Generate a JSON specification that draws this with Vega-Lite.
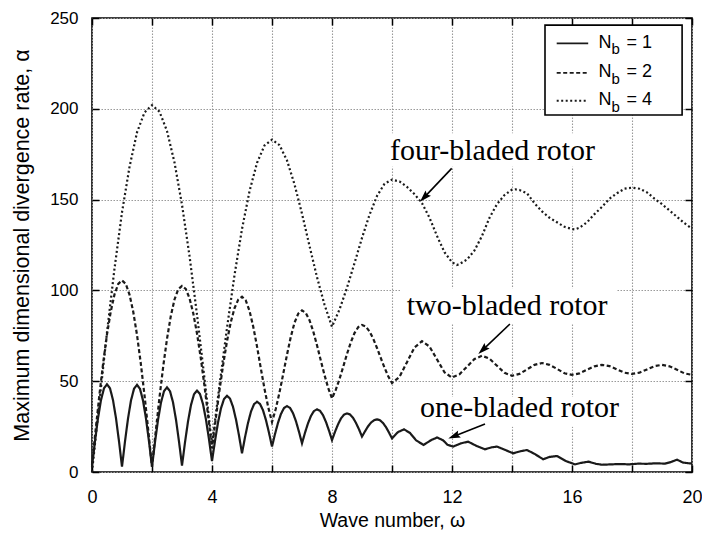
{
"$schema": "https://vega.github.io/schema/vega-lite/v6.json",
"width": 600, "height": 454,
"autosize": {"type": "none"},
"padding": {"left": 92, "top": 18, "right": 10, "bottom": 65},
"background": "white",
"config": {
  "view": {"stroke": "black", "strokeWidth": 1.6},
  "font": "Liberation Sans",
  "axis": {"domain": false, "tickColor": "black", "tickWidth": 1.5, "tickSize": -7, "labelColor": "black", "titleColor": "black", "titleFontWeight": "normal", "gridColor": "#9a9a9a", "gridDash": [1.5, 1.5], "gridWidth": 1.1, "gridOpacity": 1, "labelFlush": false, "labelOverlap": false}
},
"datasets": {
  "curves": [
    {"series":"N_b = 4","omega":0,"alpha":0},{"series":"N_b = 4","omega":0.25,"alpha":39},{"series":"N_b = 4","omega":0.5,"alpha":77},{"series":"N_b = 4","omega":0.75,"alpha":112},{"series":"N_b = 4","omega":1,"alpha":143},{"series":"N_b = 4","omega":1.25,"alpha":168},{"series":"N_b = 4","omega":1.5,"alpha":187},{"series":"N_b = 4","omega":1.75,"alpha":198},{"series":"N_b = 4","omega":2,"alpha":202},
    {"series":"N_b = 4","omega":2.25,"alpha":198.4},{"series":"N_b = 4","omega":2.5,"alpha":187.8},{"series":"N_b = 4","omega":2.75,"alpha":170.4},{"series":"N_b = 4","omega":3,"alpha":147.2},{"series":"N_b = 4","omega":3.25,"alpha":119},{"series":"N_b = 4","omega":3.5,"alpha":86.6},{"series":"N_b = 4","omega":3.75,"alpha":51.5},{"series":"N_b = 4","omega":4,"alpha":15},
    {"series":"N_b = 4","omega":4.25,"alpha":47.8},{"series":"N_b = 4","omega":4.5,"alpha":79.3},{"series":"N_b = 4","omega":4.75,"alpha":108.4},{"series":"N_b = 4","omega":5,"alpha":133.8},{"series":"N_b = 4","omega":5.25,"alpha":154.6},{"series":"N_b = 4","omega":5.5,"alpha":170.2},{"series":"N_b = 4","omega":5.75,"alpha":179.8},{"series":"N_b = 4","omega":6,"alpha":183},
    {"series":"N_b = 4","omega":6.25,"alpha":180},{"series":"N_b = 4","omega":6.5,"alpha":171.6},{"series":"N_b = 4","omega":6.75,"alpha":158.4},{"series":"N_b = 4","omega":7,"alpha":142.2},{"series":"N_b = 4","omega":7.25,"alpha":124.5},{"series":"N_b = 4","omega":7.5,"alpha":107.3},{"series":"N_b = 4","omega":7.75,"alpha":92.1},{"series":"N_b = 4","omega":8,"alpha":80},
    {"series":"N_b = 4","omega":8.25,"alpha":89.5},{"series":"N_b = 4","omega":8.5,"alpha":101.5},{"series":"N_b = 4","omega":8.75,"alpha":115},{"series":"N_b = 4","omega":9,"alpha":128.9},{"series":"N_b = 4","omega":9.25,"alpha":141.6},{"series":"N_b = 4","omega":9.5,"alpha":152},{"series":"N_b = 4","omega":9.75,"alpha":158.7},{"series":"N_b = 4","omega":10,"alpha":161},
    {"series":"N_b = 4","omega":10.25,"alpha":160},{"series":"N_b = 4","omega":10.5,"alpha":157},{"series":"N_b = 4","omega":10.75,"alpha":153},{"series":"N_b = 4","omega":11,"alpha":148},{"series":"N_b = 4","omega":11.25,"alpha":140},{"series":"N_b = 4","omega":11.5,"alpha":130},{"series":"N_b = 4","omega":11.75,"alpha":121},{"series":"N_b = 4","omega":12,"alpha":115.5},{"series":"N_b = 4","omega":12.16,"alpha":114},
    {"series":"N_b = 4","omega":12.25,"alpha":114.5},{"series":"N_b = 4","omega":12.5,"alpha":117},{"series":"N_b = 4","omega":12.75,"alpha":122},{"series":"N_b = 4","omega":13,"alpha":130},{"series":"N_b = 4","omega":13.25,"alpha":140},{"series":"N_b = 4","omega":13.5,"alpha":147.5},{"series":"N_b = 4","omega":13.75,"alpha":152.5},{"series":"N_b = 4","omega":14,"alpha":155.5},{"series":"N_b = 4","omega":14.1,"alpha":155.7},
    {"series":"N_b = 4","omega":14.25,"alpha":155.3},{"series":"N_b = 4","omega":14.5,"alpha":153.5},{"series":"N_b = 4","omega":14.75,"alpha":148},{"series":"N_b = 4","omega":15,"alpha":143.5},{"series":"N_b = 4","omega":15.25,"alpha":140},{"series":"N_b = 4","omega":15.5,"alpha":137.5},{"series":"N_b = 4","omega":15.75,"alpha":135},{"series":"N_b = 4","omega":16,"alpha":133.8},{"series":"N_b = 4","omega":16.1,"alpha":133.6},
    {"series":"N_b = 4","omega":16.25,"alpha":134.5},{"series":"N_b = 4","omega":16.5,"alpha":137.5},{"series":"N_b = 4","omega":16.75,"alpha":142},{"series":"N_b = 4","omega":17,"alpha":146},{"series":"N_b = 4","omega":17.25,"alpha":150.5},{"series":"N_b = 4","omega":17.5,"alpha":153.5},{"series":"N_b = 4","omega":17.75,"alpha":156},{"series":"N_b = 4","omega":18,"alpha":156.6},
    {"series":"N_b = 4","omega":18.25,"alpha":156},{"series":"N_b = 4","omega":18.5,"alpha":154},{"series":"N_b = 4","omega":18.75,"alpha":150.5},{"series":"N_b = 4","omega":19,"alpha":147.5},{"series":"N_b = 4","omega":19.25,"alpha":144},{"series":"N_b = 4","omega":19.5,"alpha":140.5},{"series":"N_b = 4","omega":19.75,"alpha":137},{"series":"N_b = 4","omega":20,"alpha":134},

    {"series":"N_b = 2","omega":0,"alpha":4},{"series":"N_b = 2","omega":0.125,"alpha":23.8},{"series":"N_b = 2","omega":0.25,"alpha":42.9},{"series":"N_b = 2","omega":0.375,"alpha":60.4},{"series":"N_b = 2","omega":0.5,"alpha":75.8},{"series":"N_b = 2","omega":0.625,"alpha":88.3},{"series":"N_b = 2","omega":0.75,"alpha":97.8},{"series":"N_b = 2","omega":0.875,"alpha":103.6},{"series":"N_b = 2","omega":1,"alpha":105.5},
    {"series":"N_b = 2","omega":1.125,"alpha":103.6},{"series":"N_b = 2","omega":1.25,"alpha":97.7},{"series":"N_b = 2","omega":1.375,"alpha":88.2},{"series":"N_b = 2","omega":1.5,"alpha":75.5},{"series":"N_b = 2","omega":1.625,"alpha":60},{"series":"N_b = 2","omega":1.75,"alpha":42.3},{"series":"N_b = 2","omega":1.875,"alpha":23},{"series":"N_b = 2","omega":2,"alpha":3},
    {"series":"N_b = 2","omega":2.125,"alpha":22.4},{"series":"N_b = 2","omega":2.25,"alpha":41.1},{"series":"N_b = 2","omega":2.375,"alpha":58.3},{"series":"N_b = 2","omega":2.5,"alpha":73.3},{"series":"N_b = 2","omega":2.625,"alpha":85.7},{"series":"N_b = 2","omega":2.75,"alpha":95},{"series":"N_b = 2","omega":2.875,"alpha":100.6},{"series":"N_b = 2","omega":3,"alpha":102.5},
    {"series":"N_b = 2","omega":3.125,"alpha":100.8},{"series":"N_b = 2","omega":3.25,"alpha":95.7},{"series":"N_b = 2","omega":3.375,"alpha":87.4},{"series":"N_b = 2","omega":3.5,"alpha":76.3},{"series":"N_b = 2","omega":3.625,"alpha":62.8},{"series":"N_b = 2","omega":3.75,"alpha":47.3},{"series":"N_b = 2","omega":3.875,"alpha":30.5},{"series":"N_b = 2","omega":4,"alpha":13},
    {"series":"N_b = 2","omega":4.125,"alpha":29.3},{"series":"N_b = 2","omega":4.25,"alpha":45},{"series":"N_b = 2","omega":4.375,"alpha":59.4},{"series":"N_b = 2","omega":4.5,"alpha":72},{"series":"N_b = 2","omega":4.625,"alpha":82.4},{"series":"N_b = 2","omega":4.75,"alpha":90.2},{"series":"N_b = 2","omega":4.875,"alpha":94.9},{"series":"N_b = 2","omega":5,"alpha":96.5},
    {"series":"N_b = 2","omega":5.125,"alpha":94.5},{"series":"N_b = 2","omega":5.25,"alpha":88.8},{"series":"N_b = 2","omega":5.375,"alpha":80},{"series":"N_b = 2","omega":5.5,"alpha":69.2},{"series":"N_b = 2","omega":5.625,"alpha":57.3},{"series":"N_b = 2","omega":5.75,"alpha":45.8},{"series":"N_b = 2","omega":5.875,"alpha":35.6},{"series":"N_b = 2","omega":6,"alpha":27.5},
    {"series":"N_b = 2","omega":6.125,"alpha":34.7},{"series":"N_b = 2","omega":6.25,"alpha":43.8},{"series":"N_b = 2","omega":6.375,"alpha":54.1},{"series":"N_b = 2","omega":6.5,"alpha":64.6},{"series":"N_b = 2","omega":6.625,"alpha":74.3},{"series":"N_b = 2","omega":6.75,"alpha":82.2},{"series":"N_b = 2","omega":6.875,"alpha":87.2},{"series":"N_b = 2","omega":7,"alpha":89},
    {"series":"N_b = 2","omega":7.125,"alpha":87.6},{"series":"N_b = 2","omega":7.25,"alpha":83.6},{"series":"N_b = 2","omega":7.375,"alpha":77.4},{"series":"N_b = 2","omega":7.5,"alpha":69.8},{"series":"N_b = 2","omega":7.625,"alpha":61.5},{"series":"N_b = 2","omega":7.75,"alpha":53.4},{"series":"N_b = 2","omega":7.875,"alpha":46.2},{"series":"N_b = 2","omega":8,"alpha":40.5},
    {"series":"N_b = 2","omega":8.125,"alpha":45.2},{"series":"N_b = 2","omega":8.25,"alpha":51.2},{"series":"N_b = 2","omega":8.375,"alpha":58},{"series":"N_b = 2","omega":8.5,"alpha":65},{"series":"N_b = 2","omega":8.625,"alpha":71.3},{"series":"N_b = 2","omega":8.75,"alpha":76.5},{"series":"N_b = 2","omega":8.875,"alpha":79.8},{"series":"N_b = 2","omega":9,"alpha":81},
    {"series":"N_b = 2","omega":9.125,"alpha":80.1},{"series":"N_b = 2","omega":9.25,"alpha":77.4},{"series":"N_b = 2","omega":9.375,"alpha":73.4},{"series":"N_b = 2","omega":9.5,"alpha":68.3},{"series":"N_b = 2","omega":9.625,"alpha":62.8},{"series":"N_b = 2","omega":9.75,"alpha":57.5},{"series":"N_b = 2","omega":9.875,"alpha":52.7},{"series":"N_b = 2","omega":10,"alpha":49},
    {"series":"N_b = 2","omega":10.25,"alpha":52.4},{"series":"N_b = 2","omega":10.5,"alpha":60.5},{"series":"N_b = 2","omega":10.75,"alpha":68.6},{"series":"N_b = 2","omega":11,"alpha":72},
    {"series":"N_b = 2","omega":11.25,"alpha":69.1},{"series":"N_b = 2","omega":11.5,"alpha":62},{"series":"N_b = 2","omega":11.75,"alpha":54.9},{"series":"N_b = 2","omega":12,"alpha":52},
    {"series":"N_b = 2","omega":12.25,"alpha":53.8},{"series":"N_b = 2","omega":12.5,"alpha":58},{"series":"N_b = 2","omega":12.75,"alpha":62.2},{"series":"N_b = 2","omega":13,"alpha":64},
    {"series":"N_b = 2","omega":13.25,"alpha":62.4},{"series":"N_b = 2","omega":13.5,"alpha":58.5},{"series":"N_b = 2","omega":13.75,"alpha":54.6},{"series":"N_b = 2","omega":14,"alpha":53},
    {"series":"N_b = 2","omega":14.25,"alpha":54},{"series":"N_b = 2","omega":14.5,"alpha":56.5},{"series":"N_b = 2","omega":14.75,"alpha":59},{"series":"N_b = 2","omega":15,"alpha":60},
    {"series":"N_b = 2","omega":15.25,"alpha":59},{"series":"N_b = 2","omega":15.5,"alpha":56.8},{"series":"N_b = 2","omega":15.75,"alpha":54.4},{"series":"N_b = 2","omega":16,"alpha":53.5},
    {"series":"N_b = 2","omega":16.25,"alpha":54.3},{"series":"N_b = 2","omega":16.5,"alpha":56.3},{"series":"N_b = 2","omega":16.75,"alpha":58.2},{"series":"N_b = 2","omega":17,"alpha":59},
    {"series":"N_b = 2","omega":17.25,"alpha":58.3},{"series":"N_b = 2","omega":17.5,"alpha":56.5},{"series":"N_b = 2","omega":17.75,"alpha":54.7},{"series":"N_b = 2","omega":18,"alpha":54},
    {"series":"N_b = 2","omega":18.25,"alpha":54.7},{"series":"N_b = 2","omega":18.5,"alpha":56.5},{"series":"N_b = 2","omega":18.75,"alpha":58.3},{"series":"N_b = 2","omega":19,"alpha":59},
    {"series":"N_b = 2","omega":19.25,"alpha":58.2},{"series":"N_b = 2","omega":19.5,"alpha":56.3},{"series":"N_b = 2","omega":19.75,"alpha":54.3},{"series":"N_b = 2","omega":20,"alpha":53.5},

    {"series":"N_b = 1","omega":0,"alpha":3},{"series":"N_b = 1","omega":0.1,"alpha":17},{"series":"N_b = 1","omega":0.2,"alpha":29.6},{"series":"N_b = 1","omega":0.3,"alpha":39.6},{"series":"N_b = 1","omega":0.4,"alpha":46.1},{"series":"N_b = 1","omega":0.5,"alpha":48.3},{"series":"N_b = 1","omega":0.6,"alpha":46.1},{"series":"N_b = 1","omega":0.7,"alpha":39.6},{"series":"N_b = 1","omega":0.8,"alpha":29.6},{"series":"N_b = 1","omega":0.9,"alpha":16.9},{"series":"N_b = 1","omega":1,"alpha":2.9},
    {"series":"N_b = 1","omega":1.1,"alpha":16.8},{"series":"N_b = 1","omega":1.2,"alpha":29.4},{"series":"N_b = 1","omega":1.3,"alpha":39.4},{"series":"N_b = 1","omega":1.4,"alpha":45.8},{"series":"N_b = 1","omega":1.5,"alpha":48},{"series":"N_b = 1","omega":1.6,"alpha":45.8},{"series":"N_b = 1","omega":1.7,"alpha":39.4},{"series":"N_b = 1","omega":1.8,"alpha":29.4},{"series":"N_b = 1","omega":1.9,"alpha":16.8},{"series":"N_b = 1","omega":2,"alpha":2.9},
    {"series":"N_b = 1","omega":2.1,"alpha":16.4},{"series":"N_b = 1","omega":2.2,"alpha":28.6},{"series":"N_b = 1","omega":2.3,"alpha":38.3},{"series":"N_b = 1","omega":2.4,"alpha":44.5},{"series":"N_b = 1","omega":2.5,"alpha":46.6},{"series":"N_b = 1","omega":2.6,"alpha":44.5},{"series":"N_b = 1","omega":2.7,"alpha":38.4},{"series":"N_b = 1","omega":2.8,"alpha":28.8},{"series":"N_b = 1","omega":2.9,"alpha":16.8},{"series":"N_b = 1","omega":3,"alpha":3.5},
    {"series":"N_b = 1","omega":3.1,"alpha":16.3},{"series":"N_b = 1","omega":3.2,"alpha":27.8},{"series":"N_b = 1","omega":3.3,"alpha":36.9},{"series":"N_b = 1","omega":3.4,"alpha":42.8},{"series":"N_b = 1","omega":3.5,"alpha":44.8},{"series":"N_b = 1","omega":3.6,"alpha":42.9},{"series":"N_b = 1","omega":3.7,"alpha":37.4},{"series":"N_b = 1","omega":3.8,"alpha":28.8},{"series":"N_b = 1","omega":3.9,"alpha":18},{"series":"N_b = 1","omega":4,"alpha":6},
    {"series":"N_b = 1","omega":4.1,"alpha":17.1},{"series":"N_b = 1","omega":4.2,"alpha":27.2},{"series":"N_b = 1","omega":4.3,"alpha":35.1},{"series":"N_b = 1","omega":4.4,"alpha":40.2},{"series":"N_b = 1","omega":4.5,"alpha":42},{"series":"N_b = 1","omega":4.6,"alpha":40.4},{"series":"N_b = 1","omega":4.7,"alpha":35.9},{"series":"N_b = 1","omega":4.8,"alpha":28.9},{"series":"N_b = 1","omega":4.9,"alpha":20.1},{"series":"N_b = 1","omega":5,"alpha":10.3},
    {"series":"N_b = 1","omega":5.1,"alpha":19.1},{"series":"N_b = 1","omega":5.2,"alpha":27},{"series":"N_b = 1","omega":5.3,"alpha":33.3},{"series":"N_b = 1","omega":5.4,"alpha":37.3},{"series":"N_b = 1","omega":5.5,"alpha":38.7},{"series":"N_b = 1","omega":5.6,"alpha":37.5},{"series":"N_b = 1","omega":5.7,"alpha":34},{"series":"N_b = 1","omega":5.8,"alpha":28.5},{"series":"N_b = 1","omega":5.9,"alpha":21.6},{"series":"N_b = 1","omega":6,"alpha":14},
    {"series":"N_b = 1","omega":6.1,"alpha":20.9},{"series":"N_b = 1","omega":6.2,"alpha":27.1},{"series":"N_b = 1","omega":6.3,"alpha":32},{"series":"N_b = 1","omega":6.4,"alpha":35.2},{"series":"N_b = 1","omega":6.5,"alpha":36.3},{"series":"N_b = 1","omega":6.6,"alpha":35.3},{"series":"N_b = 1","omega":6.7,"alpha":32.4},{"series":"N_b = 1","omega":6.8,"alpha":27.9},{"series":"N_b = 1","omega":6.9,"alpha":22.1},{"series":"N_b = 1","omega":7,"alpha":15.8},
    {"series":"N_b = 1","omega":7.1,"alpha":21.6},{"series":"N_b = 1","omega":7.2,"alpha":26.8},{"series":"N_b = 1","omega":7.3,"alpha":30.9},{"series":"N_b = 1","omega":7.4,"alpha":33.6},{"series":"N_b = 1","omega":7.5,"alpha":34.5},{"series":"N_b = 1","omega":7.6,"alpha":33.7},{"series":"N_b = 1","omega":7.7,"alpha":31.3},{"series":"N_b = 1","omega":7.8,"alpha":27.5},{"series":"N_b = 1","omega":7.9,"alpha":22.8},{"series":"N_b = 1","omega":8,"alpha":17.6},
    {"series":"N_b = 1","omega":8.1,"alpha":22.1},{"series":"N_b = 1","omega":8.2,"alpha":26.2},{"series":"N_b = 1","omega":8.3,"alpha":29.5},{"series":"N_b = 1","omega":8.4,"alpha":31.6},{"series":"N_b = 1","omega":8.5,"alpha":32.3},{"series":"N_b = 1","omega":8.6,"alpha":31.7},{"series":"N_b = 1","omega":8.7,"alpha":29.9},{"series":"N_b = 1","omega":8.8,"alpha":27},{"series":"N_b = 1","omega":8.9,"alpha":23.5},{"series":"N_b = 1","omega":9,"alpha":19.5},
    {"series":"N_b = 1","omega":9.1,"alpha":22.4},{"series":"N_b = 1","omega":9.2,"alpha":25.1},{"series":"N_b = 1","omega":9.3,"alpha":27.2},{"series":"N_b = 1","omega":9.4,"alpha":28.5},{"series":"N_b = 1","omega":9.5,"alpha":29},{"series":"N_b = 1","omega":9.6,"alpha":28.5},{"series":"N_b = 1","omega":9.7,"alpha":27},{"series":"N_b = 1","omega":9.8,"alpha":24.7},{"series":"N_b = 1","omega":9.9,"alpha":21.7},{"series":"N_b = 1","omega":10,"alpha":18.5},
    {"series":"N_b = 1","omega":10.2,"alpha":22},{"series":"N_b = 1","omega":10.4,"alpha":23.5},{"series":"N_b = 1","omega":10.6,"alpha":21.5},{"series":"N_b = 1","omega":10.8,"alpha":17.5},{"series":"N_b = 1","omega":11.05,"alpha":14.9},{"series":"N_b = 1","omega":11.3,"alpha":17.5},{"series":"N_b = 1","omega":11.5,"alpha":19},{"series":"N_b = 1","omega":11.7,"alpha":17.5},{"series":"N_b = 1","omega":11.85,"alpha":15},{"series":"N_b = 1","omega":12.04,"alpha":14},
    {"series":"N_b = 1","omega":12.3,"alpha":15.8},{"series":"N_b = 1","omega":12.54,"alpha":16.7},{"series":"N_b = 1","omega":12.8,"alpha":14.5},{"series":"N_b = 1","omega":13.1,"alpha":12.5},{"series":"N_b = 1","omega":13.3,"alpha":13.5},{"series":"N_b = 1","omega":13.5,"alpha":14},{"series":"N_b = 1","omega":13.75,"alpha":12.3},{"series":"N_b = 1","omega":14.04,"alpha":10.3},{"series":"N_b = 1","omega":14.3,"alpha":11.5},{"series":"N_b = 1","omega":14.5,"alpha":12.1},
    {"series":"N_b = 1","omega":14.75,"alpha":10},{"series":"N_b = 1","omega":15.04,"alpha":7},{"series":"N_b = 1","omega":15.25,"alpha":8.3},{"series":"N_b = 1","omega":15.5,"alpha":8.8},{"series":"N_b = 1","omega":15.8,"alpha":6},{"series":"N_b = 1","omega":16.1,"alpha":4.2},{"series":"N_b = 1","omega":16.3,"alpha":5},{"series":"N_b = 1","omega":16.55,"alpha":5.7},{"series":"N_b = 1","omega":16.8,"alpha":4.5},{"series":"N_b = 1","omega":17,"alpha":4},
    {"series":"N_b = 1","omega":17.3,"alpha":4.2},{"series":"N_b = 1","omega":17.6,"alpha":4.4},{"series":"N_b = 1","omega":17.9,"alpha":4.2},{"series":"N_b = 1","omega":18.2,"alpha":4.6},{"series":"N_b = 1","omega":18.5,"alpha":4.5},{"series":"N_b = 1","omega":18.8,"alpha":4.8},{"series":"N_b = 1","omega":19.1,"alpha":4.6},{"series":"N_b = 1","omega":19.3,"alpha":5.5},{"series":"N_b = 1","omega":19.5,"alpha":6.8},{"series":"N_b = 1","omega":19.7,"alpha":5.2},{"series":"N_b = 1","omega":20,"alpha":4.6}
  ],
  "boxes": [
    {"omega":9.71,"omega2":17.16,"alpha":168.1,"alpha2":186.5},
    {"omega":10.27,"omega2":17.49,"alpha":81.9,"alpha2":101.2},
    {"omega":10.66,"omega2":17.71,"alpha":24.9,"alpha2":41.5}
  ],
  "labels": [
    {"text":"four-bladed rotor","omega":9.93,"alpha":171.8},
    {"text":"two-bladed rotor","omega":10.49,"alpha":86.5},
    {"text":"one-bladed rotor","omega":10.93,"alpha":30.5}
  ],
  "arrows": [
    {"omega":11.99,"alpha":167.2,"omega2":11.105,"alpha2":151.8},
    {"omega":13.93,"alpha":81.5,"omega2":13.06,"alpha2":67.8},
    {"omega":13.1,"alpha":26.4,"omega2":12.11,"alpha2":20.0}
  ],
  "legend": [
    {"series":"N_b = 1","num":"= 1","alpha":233.6},
    {"series":"N_b = 2","num":"= 2","alpha":217.4},
    {"series":"N_b = 4","num":"= 4","alpha":202}
  ]
},
"resolve": {"axis": {"x": "independent", "y": "independent"}},
"layer": [
  {
    "data": {"name": "curves"},
    "mark": {"type": "line", "strokeWidth": 2.2, "color": "#1a1a1a"},
    "encoding": {
      "x": {"field": "omega", "type": "quantitative", "scale": {"domain": [0, 20], "nice": false},
        "axis": {"orient": "bottom", "values": [0,2,4,6,8,10,12,14,16,18,20], "labelExpr": "datum.value % 4 === 0 ? datum.label : ''", "grid": true, "labelFontSize": 18, "labelPadding": 23, "title": "Wave number, ω", "titleFontSize": 19.5, "titlePadding": 5}},
      "y": {"field": "alpha", "type": "quantitative", "scale": {"domain": [0, 250], "nice": false},
        "axis": {"orient": "left", "values": [0,50,100,150,200,250], "grid": true, "labelFontSize": 17, "labelPadding": 21, "title": "Maximum dimensional divergence rate, α", "titleFontSize": 21.5, "titlePadding": 16}},
      "strokeDash": {"field": "series", "type": "nominal", "scale": {"domain": ["N_b = 1", "N_b = 2", "N_b = 4"], "range": [[1, 0], [4, 2.5], [2, 2.5]]}, "legend": null}
    }
  },
  {
    "data": {"name": "boxes"},
    "mark": {"type": "rect", "fill": "white"},
    "encoding": {
      "x": {"field": "omega", "type": "quantitative", "axis": {"orient": "top", "values": [0,2,4,6,8,10,12,14,16,18,20], "labels": false, "title": null, "grid": false}},
      "x2": {"field": "omega2"},
      "y": {"field": "alpha", "type": "quantitative", "axis": {"orient": "right", "values": [0,50,100,150,200,250], "labels": false, "title": null, "grid": false}},
      "y2": {"field": "alpha2"}
    }
  },
  {
    "data": {"name": "labels"},
    "mark": {"type": "text", "font": "Liberation Serif", "fontSize": 30, "align": "left", "baseline": "alphabetic", "color": "black"},
    "encoding": {
      "x": {"field": "omega", "type": "quantitative", "axis": null},
      "y": {"field": "alpha", "type": "quantitative", "axis": null},
      "text": {"field": "text"}
    }
  },
  {
    "data": {"name": "arrows"},
    "mark": {"type": "rule", "strokeWidth": 1.6, "color": "black"},
    "encoding": {
      "x": {"field": "omega", "type": "quantitative", "axis": null},
      "y": {"field": "alpha", "type": "quantitative", "axis": null},
      "x2": {"field": "omega2"},
      "y2": {"field": "alpha2"}
    }
  },
  {
    "data": {"values": [{"omega": 11.105, "alpha": 151.8}]},
    "mark": {"type": "point", "shape": "M0,-1L0.5,0.6L0,0.35L-0.5,0.6Z", "filled": true, "color": "black", "opacity": 1, "size": 225, "angle": 223.5},
    "encoding": {"x": {"field": "omega", "type": "quantitative", "axis": null}, "y": {"field": "alpha", "type": "quantitative", "axis": null}}
  },
  {
    "data": {"values": [{"omega": 13.06, "alpha": 67.8}]},
    "mark": {"type": "point", "shape": "M0,-1L0.5,0.6L0,0.35L-0.5,0.6Z", "filled": true, "color": "black", "opacity": 1, "size": 225, "angle": 226.6},
    "encoding": {"x": {"field": "omega", "type": "quantitative", "axis": null}, "y": {"field": "alpha", "type": "quantitative", "axis": null}}
  },
  {
    "data": {"values": [{"omega": 12.11, "alpha": 20.0}]},
    "mark": {"type": "point", "shape": "M0,-1L0.5,0.6L0,0.35L-0.5,0.6Z", "filled": true, "color": "black", "opacity": 1, "size": 225, "angle": 248.7},
    "encoding": {"x": {"field": "omega", "type": "quantitative", "axis": null}, "y": {"field": "alpha", "type": "quantitative", "axis": null}}
  },
  {
    "data": {"values": [{"omega": 15.1, "omega2": 19.67, "alpha": 196.6, "alpha2": 246.1}]},
    "mark": {"type": "rect", "fill": "white", "stroke": "black", "strokeWidth": 1.6},
    "encoding": {
      "x": {"field": "omega", "type": "quantitative", "axis": null},
      "x2": {"field": "omega2"},
      "y": {"field": "alpha", "type": "quantitative", "axis": null},
      "y2": {"field": "alpha2"}
    }
  },
  {
    "data": {"name": "legend"},
    "mark": {"type": "rule", "strokeWidth": 1.8, "color": "#1a1a1a", "yOffset": -4.4},
    "encoding": {
      "x": {"datum": 15.49, "type": "quantitative", "axis": null},
      "x2": {"datum": 16.54},
      "y": {"field": "alpha", "type": "quantitative", "axis": null},
      "strokeDash": {"field": "series", "type": "nominal", "legend": null}
    }
  },
  {
    "data": {"name": "legend"},
    "mark": {"type": "text", "text": "N", "fontSize": 18, "align": "left", "baseline": "alphabetic", "color": "black"},
    "encoding": {
      "x": {"datum": 16.88, "type": "quantitative", "axis": null},
      "y": {"field": "alpha", "type": "quantitative", "axis": null}
    }
  },
  {
    "data": {"name": "legend"},
    "mark": {"type": "text", "text": "b", "fontSize": 15, "align": "left", "baseline": "alphabetic", "dy": 6.6, "color": "black"},
    "encoding": {
      "x": {"datum": 17.32, "type": "quantitative", "axis": null},
      "y": {"field": "alpha", "type": "quantitative", "axis": null}
    }
  },
  {
    "data": {"name": "legend"},
    "mark": {"type": "text", "fontSize": 18, "align": "left", "baseline": "alphabetic", "color": "black"},
    "encoding": {
      "x": {"datum": 17.82, "type": "quantitative", "axis": null},
      "y": {"field": "alpha", "type": "quantitative", "axis": null},
      "text": {"field": "num"}
    }
  }
]
}
